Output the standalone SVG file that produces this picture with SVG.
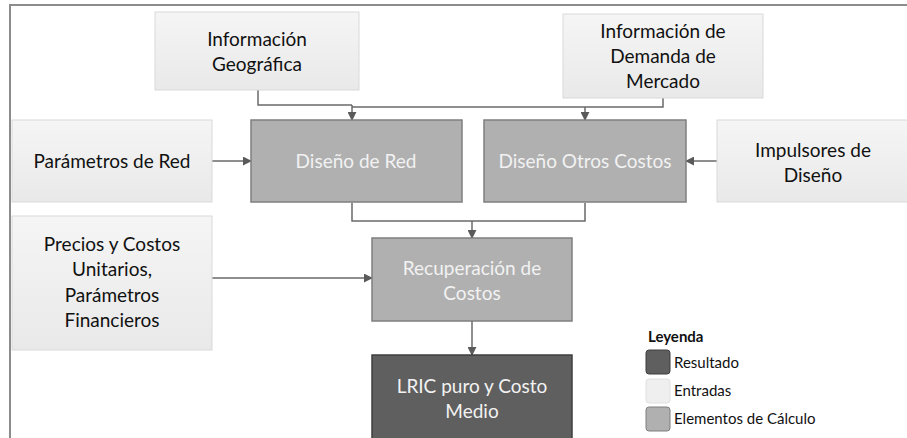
<svg xmlns="http://www.w3.org/2000/svg" width="907" height="438" viewBox="0 0 907 438">
<defs>
<linearGradient id="gIn" x1="0" y1="0" x2="0" y2="1">
<stop offset="0" stop-color="#f5f5f5"/>
<stop offset="1" stop-color="#e9e9e9"/>
</linearGradient>
<marker id="arr" viewBox="0 0 10 10" refX="9" refY="5" markerWidth="9" markerHeight="9" markerUnits="userSpaceOnUse" orient="auto">
<path d="M0,0 L10,5 L0,10 z" fill="#5a5a5a"/>
</marker>
<style>
.in{fill:url(#gIn);stroke:#d9d9d9;stroke-width:1}
.calc{fill:#b0b0b0;stroke:#7f7f7f;stroke-width:1.5}
.res{fill:#5f5f5f;stroke:#3f3f3f;stroke-width:1.5}
.t{font-family:Lato,"Liberation Sans",sans-serif;font-size:19px;text-anchor:middle;fill:#111}
.tw{font-family:Lato,"Liberation Sans",sans-serif;font-size:19px;text-anchor:middle;fill:#f2f2f2}
.lg{font-family:Lato,"Liberation Sans",sans-serif;font-size:15px;fill:#111}
.c{fill:none;stroke:#6a6a6a;stroke-width:1.5}
.ca{fill:none;stroke:#6a6a6a;stroke-width:1.5;marker-end:url(#arr)}
</style>
</defs>
<rect width="907" height="438" fill="#ffffff"/>
<g id="frame">
<path d="M9,5 H907 M10,5 V438" fill="none" stroke="#8c8c8c" stroke-width="2"/>
</g>
<g id="connectors">
<path class="c" d="M258,90 V105 H352"/>
<path class="ca" d="M352,105 V120"/>
<path class="c" d="M663,98 V107 H352"/>
<path class="ca" d="M585,107 V120"/>
<path class="ca" d="M212,161 H251"/>
<path class="ca" d="M717,161 H686"/>
<path class="c" d="M352,203 V221 H585 V203"/>
<path class="ca" d="M472,221 V238"/>
<path class="ca" d="M212,278 H372"/>
<path class="ca" d="M472,321 V355"/>
</g>
<g id="info-geo">
<rect class="in" x="155" y="12" width="204" height="78"/>
<text class="t" x="257" y="46">Información</text>
<text class="t" x="257" y="71">Geográfica</text>
</g>
<g id="info-demanda">
<rect class="in" x="563" y="14" width="200" height="84"/>
<text class="t" x="663" y="38">Información de</text>
<text class="t" x="663" y="63">Demanda de</text>
<text class="t" x="663" y="88">Mercado</text>
</g>
<g id="parametros-red">
<rect class="in" x="12" y="120" width="200" height="82"/>
<text class="t" x="112" y="168">Parámetros de Red</text>
</g>
<g id="diseno-red">
<rect class="calc" x="251" y="120" width="211" height="82"/>
<text class="tw" x="356" y="168">Diseño de Red</text>
</g>
<g id="diseno-otros">
<rect class="calc" x="484" y="120" width="202" height="82"/>
<text class="tw" x="585" y="168">Diseño Otros Costos</text>
</g>
<g id="impulsores">
<rect class="in" x="717" y="120" width="192" height="82"/>
<text class="t" x="813" y="157">Impulsores de</text>
<text class="t" x="813" y="182">Diseño</text>
</g>
<g id="precios">
<rect class="in" x="12" y="216" width="200" height="134"/>
<text class="t" x="112" y="251">Precios y Costos</text>
<text class="t" x="112" y="276">Unitarios,</text>
<text class="t" x="112" y="302">Parámetros</text>
<text class="t" x="112" y="327">Financieros</text>
</g>
<g id="recuperacion">
<rect class="calc" x="372" y="238" width="200" height="83"/>
<text class="tw" x="472" y="275">Recuperación de</text>
<text class="tw" x="472" y="300">Costos</text>
</g>
<g id="lric">
<rect class="res" x="372" y="355" width="200" height="90"/>
<text class="tw" x="472" y="393">LRIC puro y Costo</text>
<text class="tw" x="472" y="418">Medio</text>
</g>
<g id="leyenda">
<text class="lg" x="648" y="342" font-weight="bold">Leyenda</text>
<rect x="646" y="350" width="24" height="24" rx="3" fill="#5f5f5f" stroke="#3f3f3f"/>
<text class="lg" x="674" y="368">Resultado</text>
<rect x="646" y="379" width="24" height="24" rx="3" fill="#efefef" stroke="#e0e0e0"/>
<text class="lg" x="674" y="396">Entradas</text>
<rect x="646" y="407" width="24" height="24" rx="3" fill="#b0b0b0" stroke="#7f7f7f"/>
<text class="lg" x="674" y="424">Elementos de Cálculo</text>
</g>
</svg>
